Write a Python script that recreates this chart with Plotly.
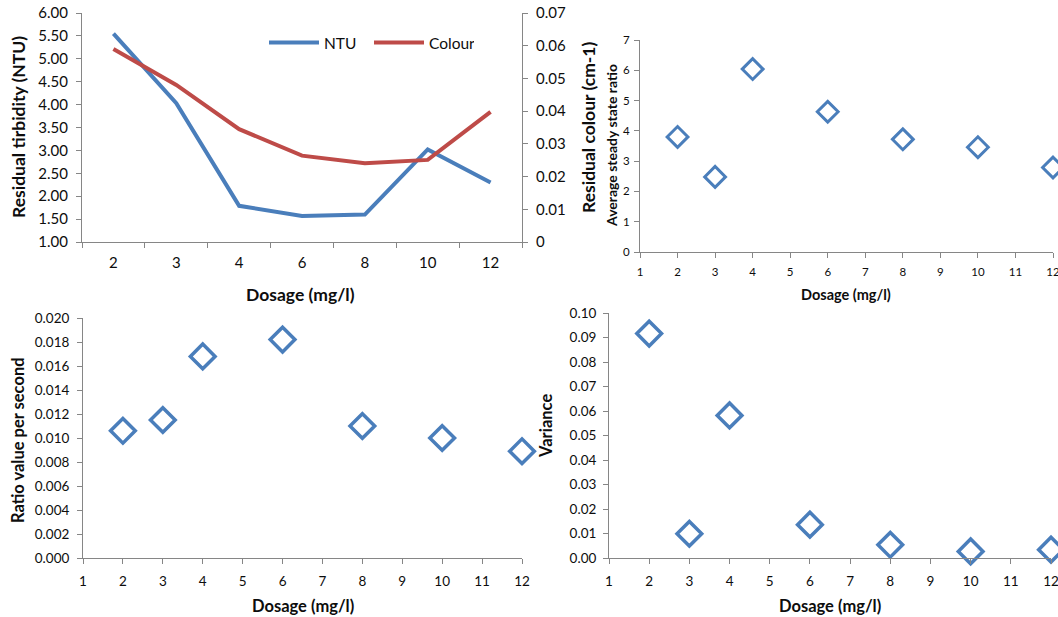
import plotly.graph_objects as go

# ---- data ----
dosage_cats = ["2", "3", "4", "6", "8", "10", "12"]
dosage = [2, 3, 4, 6, 8, 10, 12]
ntu = [5.55, 4.03, 1.79, 1.57, 1.60, 3.02, 2.30]
colour = [0.0590, 0.0480, 0.0345, 0.0264, 0.0241, 0.0251, 0.0398]
steady_ratio = [3.80, 2.48, 6.04, 4.63, 3.72, 3.46, 2.79]
ratio_per_sec = [0.0106, 0.0115, 0.0168, 0.0182, 0.0110, 0.0100, 0.0089]
variance = [0.0916, 0.0099, 0.0582, 0.0136, 0.0054, 0.0027, 0.0034]

W, H = 1058, 617
BLUE = "#4A7EBB"
RED = "#BE4B48"
AX = "#868686"
TXT = "#0d0d0d"
FONT = "Lato"


def px_x(a, b):
    return [a / W, b / W]


def px_y(top, bottom):
    return [1 - bottom / H, 1 - top / H]


fig = go.Figure()

# top-left line chart
fig.add_trace(go.Scatter(x=dosage_cats, y=ntu, mode="lines", name="NTU",
                         line=dict(color=BLUE, width=4), xaxis="x", yaxis="y"))
fig.add_trace(go.Scatter(x=dosage_cats, y=colour, mode="lines", name="Colour",
                         line=dict(color=RED, width=4), xaxis="x", yaxis="y2"))

marker_big = dict(symbol="diamond-open", size=19, color=BLUE, line=dict(color=BLUE, width=3.5))
marker_small = dict(symbol="diamond-open", size=16, color=BLUE, line=dict(color=BLUE, width=3))

fig.add_trace(go.Scatter(x=dosage, y=steady_ratio, mode="markers", marker=marker_small,
                         showlegend=False, cliponaxis=False, xaxis="x2", yaxis="y3"))
fig.add_trace(go.Scatter(x=dosage, y=ratio_per_sec, mode="markers", marker=marker_big,
                         showlegend=False, cliponaxis=False, xaxis="x3", yaxis="y4"))
fig.add_trace(go.Scatter(x=dosage, y=variance, mode="markers", marker=marker_big,
                         showlegend=False, cliponaxis=False, xaxis="x4", yaxis="y5"))

common = dict(showline=True, linecolor=AX, linewidth=1, ticks="outside", tickcolor=AX,
              ticklen=5, showgrid=False, zeroline=False, fixedrange=True, automargin=False,
              ticklabeloverflow="allow")

fig.update_layout(
    width=W, height=H, margin=dict(l=0, r=0, t=0, b=0, autoexpand=False),
    paper_bgcolor="white", plot_bgcolor="rgba(0,0,0,0)",
    font=dict(family=FONT, color=TXT),
    showlegend=True,
    legend=dict(orientation="h", x=264 / W, y=1 - 43 / H, xanchor="left", yanchor="middle",
                font=dict(size=15.5, family=FONT, color=TXT), bgcolor="rgba(0,0,0,0)",
                entrywidth=40, itemwidth=50),
    # top-left
    xaxis=dict(domain=px_x(82, 522), anchor="y", type="category", range=[-0.5, 6.5],
               tickson="boundaries", tickfont=dict(size=15), ticklabelstandoff=7, **common),
    yaxis=dict(domain=px_y(13, 242), anchor="x", range=[1, 6], dtick=0.5, tickformat=".2f",
               tickfont=dict(size=15), ticklabelstandoff=5, **common),
    yaxis2=dict(overlaying="y", side="right", anchor="x", range=[0, 0.07], dtick=0.01,
                tickfont=dict(size=15), ticklabelstandoff=5, **common),
    # top-right
    xaxis2=dict(domain=px_x(640, 1053), anchor="y3", range=[1, 12], dtick=1,
                tickfont=dict(size=11.5), ticklabelstandoff=4, **common),
    yaxis3=dict(domain=px_y(40, 252), anchor="x2", range=[0, 7], dtick=1,
                tickfont=dict(size=11.5), ticklabelstandoff=2, **common),
    # bottom-left
    xaxis3=dict(domain=px_x(83, 522), anchor="y4", range=[1, 12], dtick=1,
                tickfont=dict(size=13.5), ticklabelstandoff=6, **common),
    yaxis4=dict(domain=px_y(318, 558), anchor="x3", range=[0, 0.02], dtick=0.002,
                tickformat=".3f", tickfont=dict(size=13.5), ticklabelstandoff=5, **common),
    # bottom-right
    xaxis4=dict(domain=px_x(609, 1051), anchor="y5", range=[1, 12], dtick=1,
                tickfont=dict(size=13.5), ticklabelstandoff=6, **common),
    yaxis5=dict(domain=px_y(313, 558), anchor="x4", range=[0, 0.1], dtick=0.01,
                tickformat=".2f", tickfont=dict(size=13.5), ticklabelstandoff=4, **common),
)


def title(text, x, y, size, angle=0):
    fig.add_annotation(text=f"<b>{text}</b>", x=x / W, y=1 - y / H, xref="paper", yref="paper",
                       showarrow=False, textangle=angle, xanchor="center", yanchor="middle",
                       font=dict(size=size, family=FONT, color=TXT))


title("Residual tirbidity (NTU)", 18, 127, 17.5, -90)
title("Dosage (mg/l)", 300, 294, 17.5)
title("Residual colour (cm-1)", 588, 127, 17.5, -90)
title("Average steady state ratio", 611, 146, 14, -90)
title("Dosage (mg/l)", 846, 294, 14.5)
title("Ratio value per second", 18, 440, 16.5, -90)
title("Dosage (mg/l)", 303, 606, 16.5)
title("Variance", 546, 426, 16.5, -90)
title("Dosage (mg/l)", 830, 606, 16.5)

fig.write_html("out.html")
